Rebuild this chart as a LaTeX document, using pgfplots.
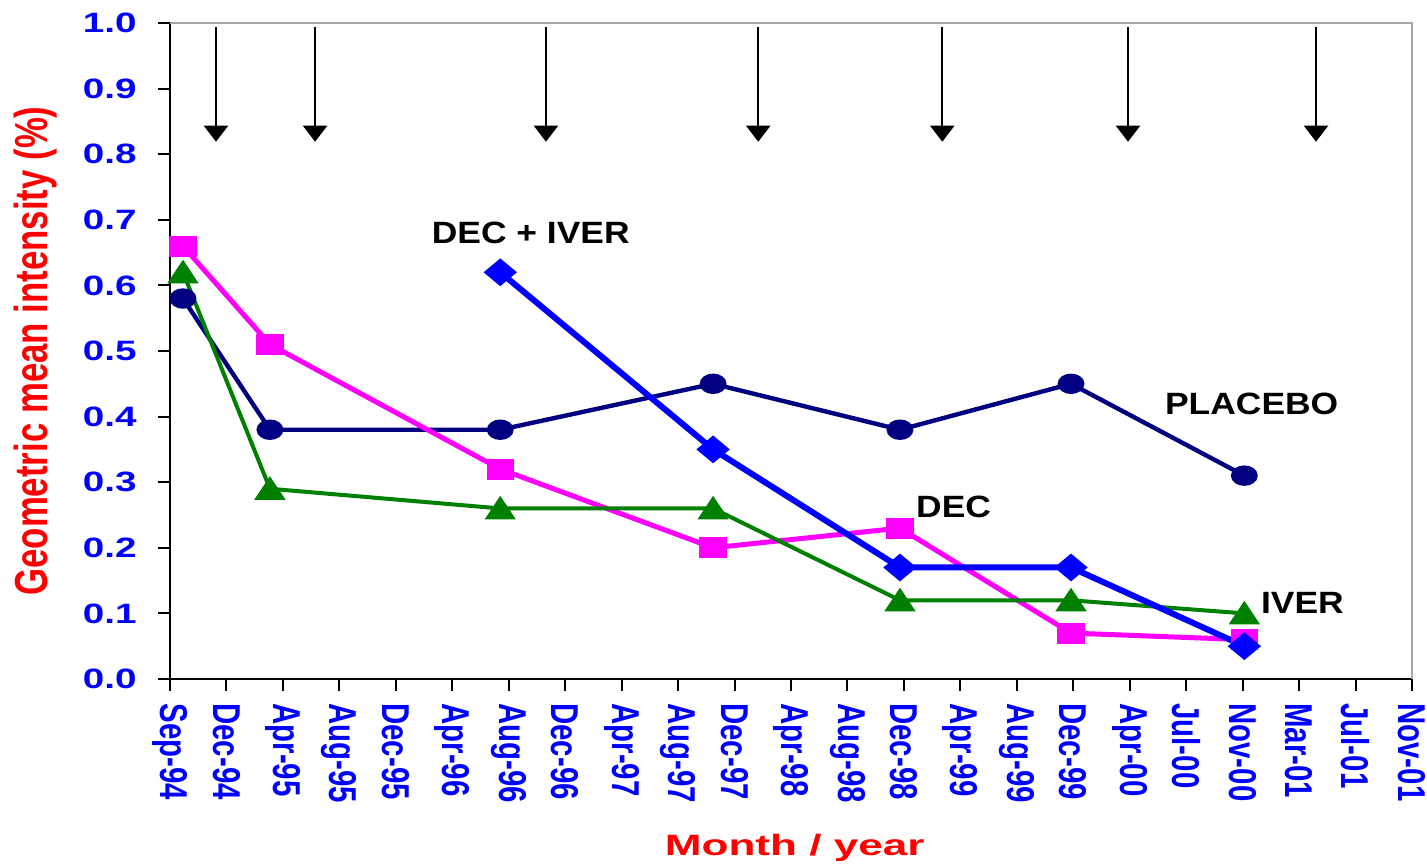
\documentclass[border=0pt]{standalone}
\usepackage{fontspec}
\setmainfont{Liberation Sans}
\newfontfamily\ytickfont[FakeStretch=1.38]{Liberation Sans}
\newfontfamily\xlabfont[FakeStretch=1.5]{Liberation Sans}
\newfontfamily\serfont[FakeStretch=1.15]{Liberation Sans}
\usepackage{pgfplots}
\pgfplotsset{compat=1.18}
\usetikzlibrary{arrows.meta}
\definecolor{navy}{RGB}{0,0,128}
\definecolor{dgreen}{RGB}{0,128,0}
\definecolor{magpink}{RGB}{255,0,255}
\definecolor{pureblue}{RGB}{0,0,255}
\newcommand{\xt}[1]{\scalebox{1}[1.32]{#1}}
\newcommand{\serlabel}{\serfont\bfseries\fontsize{15.4bp}{18bp}\selectfont}

\begin{document}
\begin{tikzpicture}
\begin{axis}[
    scale only axis,
    width=621bp, height=328bp,
    at={(0,0)}, anchor=south west,
    xmin=0, xmax=22, ymin=0, ymax=1,
    axis x line*=bottom, axis y line*=left,
    axis line style={black, line width=1bp, -},
    tick align=outside,
    major tick length=6bp,
    tick style={black, line width=1bp},
    xtick={0,1,2,3,4,5,6,7,8,9,10,11,12,13,14,15,16,17,18,19,20,21,22},
    xticklabels={\xt{Sep-94},\xt{Dec-94},\xt{Apr-95},\xt{Aug-95},\xt{Dec-95},\xt{Apr-96},
      \xt{Aug-96},\xt{Dec-96},\xt{Apr-97},\xt{Aug-97},\xt{Dec-97},\xt{Apr-98},\xt{Aug-98},
      \xt{Dec-98},\xt{Apr-99},\xt{Aug-99},\xt{Dec-99},\xt{Apr-00},\xt{Jul-00},\xt{Nov-00},
      \xt{Mar-01},\xt{Jul-01},\xt{Nov-01}},
    ytick={0,0.1,0.2,0.3,0.4,0.5,0.6,0.7,0.8,0.9,1.0},
    /pgf/number format/fixed,
    /pgf/number format/fixed zerofill,
    /pgf/number format/precision=1,
    /pgf/number format/assume math mode=true,
    yticklabel style={font=\ytickfont\bfseries\fontsize{14bp}{16bp}\selectfont,
      text=pureblue, anchor=east, inner sep=0pt, xshift=-10.5bp},
    xticklabel style={font=\bfseries\fontsize{14.7bp}{17bp}\selectfont,
      text=pureblue, rotate=-90, anchor=west, inner ysep=0pt, inner xsep=6bp},
    xlabel={Month / year},
    xlabel style={font=\xlabfont\bfseries\fontsize{14.7bp}{17bp}\selectfont, text=red,
      at={(axis description cs:0.503,-0.257)}, anchor=center},
    ylabel={\scalebox{1}[1.33]{Geometric mean intensity (\%)}},
    ylabel style={font=\bfseries\fontsize{17.4bp}{20bp}\selectfont, text=red,
      at={(axis description cs:-0.108,0.5)}, anchor=center},
    clip=false,
]

% PLACEBO
\addplot[navy, line width=2.2bp, mark=*, mark size=4bp,
  mark options={xscale=1.4, solid}] coordinates {
  (0.23,0.58) (1.77,0.38) (5.85,0.38) (9.62,0.45) (12.93,0.38) (15.96,0.45) (19.03,0.31)
};
% DEC
\addplot[magpink, line width=2.5bp, mark=square*, mark size=4bp,
  mark options={xscale=1.4, solid}] coordinates {
  (0.23,0.66) (1.77,0.51) (5.85,0.32) (9.62,0.20) (12.93,0.23) (15.96,0.07) (19.03,0.06)
};
% IVER
\addplot[dgreen, line width=2bp, mark=triangle*, mark size=6bp,
  mark options={xscale=1.15, yshift=-1.5bp, solid}] coordinates {
  (0.23,0.62) (1.77,0.29) (5.85,0.26) (9.62,0.26) (12.93,0.12) (15.96,0.12) (19.03,0.10)
};
% DEC + IVER
\addplot[pureblue, line width=3bp, mark=diamond*, mark size=5bp,
  mark options={xscale=1.6, solid}] coordinates {
  (5.85,0.62) (9.62,0.35) (12.93,0.17) (15.96,0.17) (19.03,0.05)
};

% treatment arrows
\pgfplotsinvokeforeach{0.815,2.57,6.66,10.42,13.68,16.97,20.30}{
  \draw[black, line width=1bp, -{Triangle[width=12bp,length=8bp]}]
    (axis cs:#1,0.994) -- (axis cs:#1,0.819);
}

% plot area border (top and right)
\draw[gray!70, line width=0.7bp] (rel axis cs:0,1) -- (rel axis cs:1,1) -- (rel axis cs:1,0);

\node[font=\serlabel] at (axis cs:6.39,0.68) {DEC + IVER};
\node[font=\serlabel] at (axis cs:19.16,0.419) {PLACEBO};
\node[font=\serlabel] at (axis cs:13.88,0.262) {DEC};
\node[font=\serlabel] at (axis cs:20.06,0.116) {IVER};
\end{axis}
\pgfresetboundingbox
\useasboundingbox (-85bp,-92.5bp) rectangle (628.5bp,339.5bp);
\end{tikzpicture}
\end{document}
